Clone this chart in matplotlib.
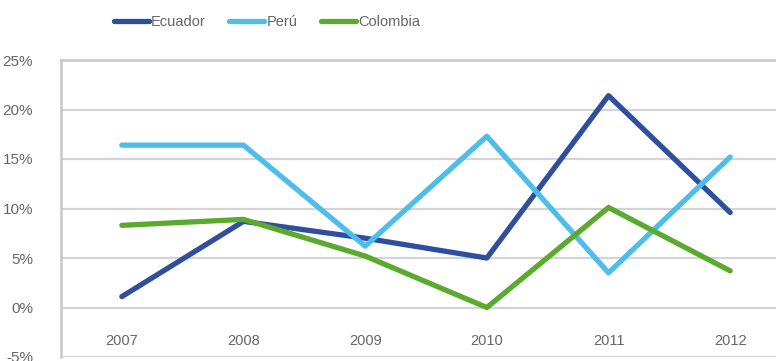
import matplotlib.pyplot as plt
from matplotlib.ticker import FuncFormatter

years = [2007, 2008, 2009, 2010, 2011, 2012]
ecuador = [1.1, 8.7, 7.0, 5.0, 21.4, 9.6]
peru = [16.4, 16.4, 6.2, 17.3, 3.5, 15.2]
colombia = [8.3, 8.9, 5.2, 0.0, 10.1, 3.7]
y_ticks = [-5, 0, 5, 10, 15, 20, 25]

plt.rcParams['font.family'] = ['Liberation Sans Narrow', 'Liberation Sans', 'DejaVu Sans']
text_color = '#666666'

fig = plt.figure(figsize=(7.76, 3.61), dpi=100)
# axes run past the right edge of the picture, as in the reference
ax = fig.add_axes([61 / 776, 4 / 361, 730 / 776, 297 / 361])

ax.plot(years, ecuador, color='#2F4E9E', lw=3.8, label='Ecuador', solid_capstyle='round')
ax.plot(years, peru, color='#4DBDE9', lw=3.8, label='Perú', solid_capstyle='round')
ax.plot(years, colombia, color='#5AAA2E', lw=3.8, label='Colombia', solid_capstyle='round')

ax.set_xlim(2006.5, 2012.5)
ax.set_ylim(-5, 25)
ax.set_yticks(y_ticks)
ax.yaxis.set_major_formatter(FuncFormatter(lambda v, p: f'{v:.0f}%'))
ax.tick_params(axis='y', length=0, pad=20, labelsize=11, labelcolor=text_color)
ax.set_xticks([])
ax.grid(axis='y', color='#d4d4d4', lw=1.6)
ax.set_axisbelow(True)

for s in ['right', 'bottom']:
    ax.spines[s].set_visible(False)
for s in ['left', 'top']:
    ax.spines[s].set_color('#c8c8c8')
    ax.spines[s].set_linewidth(1.8)

# year labels sit inside the plot, below the zero line
for yr in years:
    ax.text(yr, -3.4, str(yr), ha='center', va='center', fontsize=10.5, color=text_color)

leg = fig.legend(loc='center', bbox_to_anchor=(267 / 776, 1 - 22 / 361), ncol=3,
                 frameon=False, fontsize=10.5, handlelength=2.4, handletextpad=0.15,
                 columnspacing=1.6)
for t in leg.get_texts():
    t.set_color(text_color)

fig.savefig('out.png', dpi=100)
plt.close(fig)
